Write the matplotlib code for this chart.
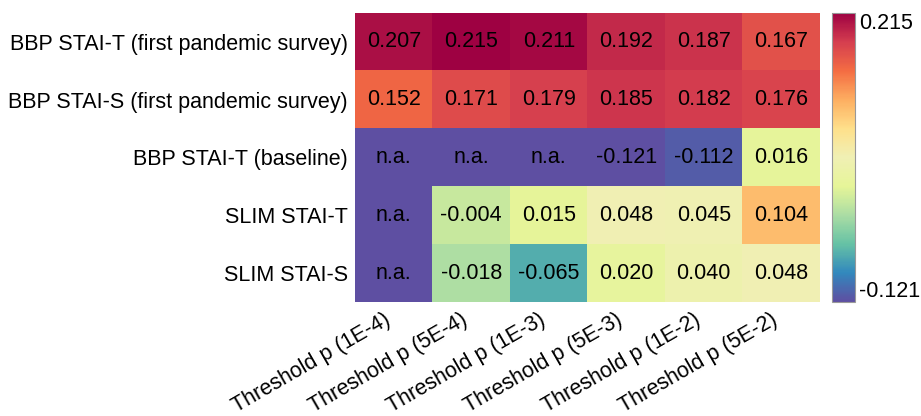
import matplotlib.pyplot as plt
import numpy as np
from matplotlib.colors import Normalize, LinearSegmentedColormap

plt.rcParams['font.family'] = ['Liberation Sans', 'DejaVu Sans']

# rows and columns of the heatmap
row_labels = ['BBP STAI-T (first pandemic survey)', 'BBP STAI-S (first pandemic survey)',
              'BBP STAI-T (baseline)', 'SLIM STAI-T', 'SLIM STAI-S']
col_labels = ['Threshold p (1E-4)', 'Threshold p (5E-4)', 'Threshold p (1E-3)',
              'Threshold p (5E-3)', 'Threshold p (1E-2)', 'Threshold p (5E-2)']

# correlation values, nan = n.a.
bbp_t_pandemic = [0.207, 0.215, 0.211, 0.192, 0.187, 0.167]
bbp_s_pandemic = [0.152, 0.171, 0.179, 0.185, 0.182, 0.176]
bbp_t_baseline = [np.nan, np.nan, np.nan, -0.121, -0.112, 0.016]
slim_t = [np.nan, -0.004, 0.015, 0.048, 0.045, 0.104]
slim_s = [np.nan, -0.018, -0.065, 0.020, 0.040, 0.048]

values = np.array([bbp_t_pandemic, bbp_s_pandemic, bbp_t_baseline, slim_t, slim_s])
vmin, vmax = np.nanmin(values), np.nanmax(values)

# n.a. cells are shown in the lowest colour
shown = np.where(np.isnan(values), vmin, values)

# spectral palette, reversed, with a slightly muted centre
spectral = ['#5e4fa2', '#3288bd', '#66c2a5', '#abdda4', '#e6f598', '#f0f0b4',
            '#fee08b', '#fdae61', '#f46d43', '#d53e4f', '#9e0142']
cmap = LinearSegmentedColormap.from_list('spec', spectral)

fig = plt.figure(figsize=(9.21, 4.16), dpi=100)
ax = fig.add_axes([0.3855, 0.274, 0.5048, 0.6948])
cax = fig.add_axes([0.9034, 0.274, 0.025, 0.6948])

norm = Normalize(vmin=vmin, vmax=vmax)
im = ax.imshow(shown, cmap=cmap, norm=norm, aspect='auto', interpolation='nearest')

fs = 15.5
for i in range(values.shape[0]):
    for j in range(values.shape[1]):
        v = values[i, j]
        txt = 'n.a.' if np.isnan(v) else f'{v:.3f}'
        ax.text(j, i, txt, ha='center', va='center', fontsize=fs, color='black')

ax.set_xticks(range(len(col_labels)))
ax.set_xticklabels(col_labels, rotation=30, ha='right', fontsize=fs)
ax.set_yticks(range(len(row_labels)))
ax.set_yticklabels(row_labels, fontsize=fs)
ax.tick_params(length=0, pad=5)
for s in ax.spines.values():
    s.set_visible(False)

cb = fig.colorbar(im, cax=cax)
cb.set_ticks([vmin, vmax])
cb.set_ticklabels([f'{vmin:.3f}', f'{vmax:.3f}'])
cb.ax.tick_params(length=0, labelsize=fs, pad=3)
cb.outline.set_edgecolor('#999999')
labels = cb.ax.get_yticklabels()
labels[0].set_va('bottom')
labels[1].set_va('top')

fig.savefig('out.png', dpi=100)
